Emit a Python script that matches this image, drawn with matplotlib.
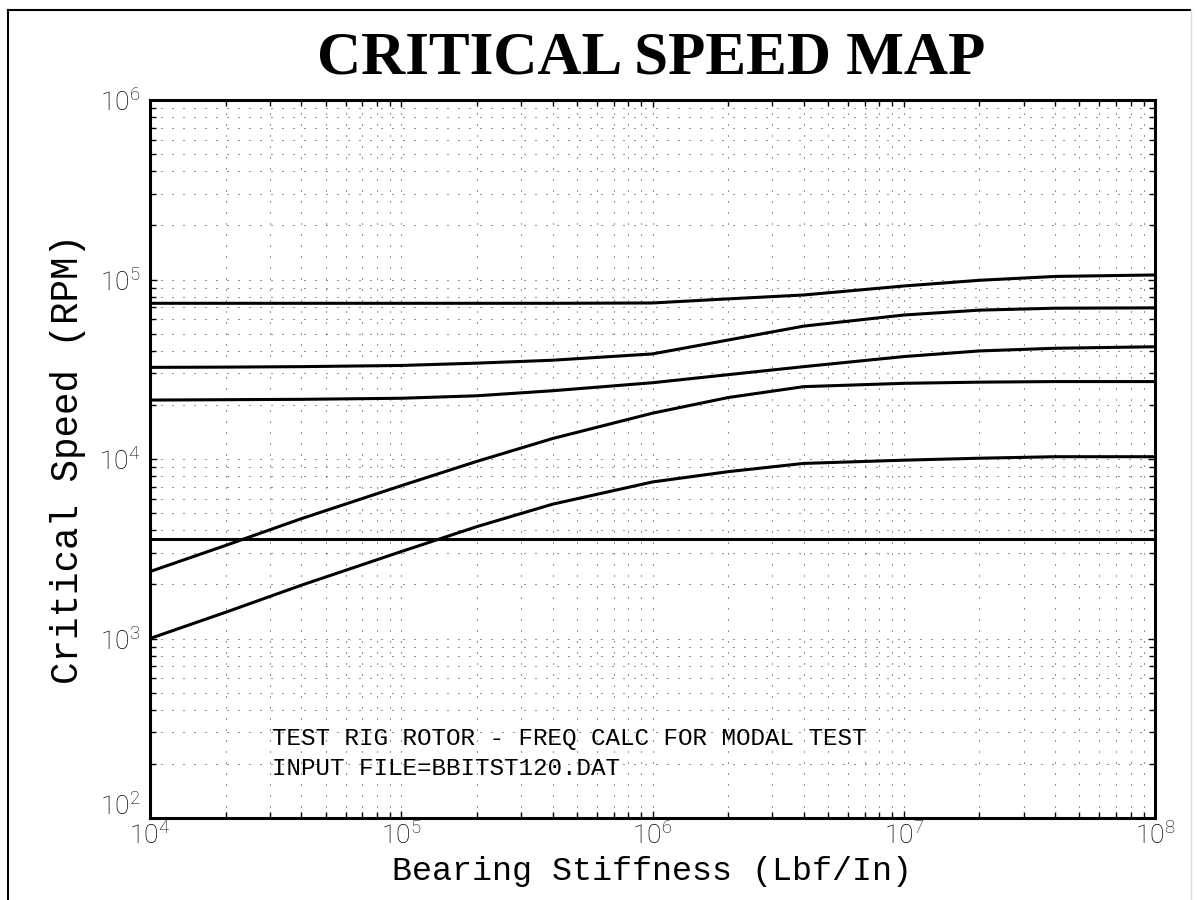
import numpy as np
import matplotlib
matplotlib.use('Agg')
import matplotlib.pyplot as plt
from matplotlib import font_manager
from matplotlib.ticker import LogLocator, FuncFormatter, NullFormatter
from matplotlib.lines import Line2D

# bearing stiffness (Lbf/In) and critical speeds (RPM)
STIFFNESS = [1e4, 2e4, 4e4, 1e5, 2e5, 4e5, 1e6, 2e6, 4e6, 1e7, 2e7, 4e7, 1e8]
RUN_SPEED = [3570, 3570, 3570, 3570, 3570, 3570, 3570, 3570, 3570, 3570, 3570, 3570, 3570]
MODE_1 = [1000, 1400, 1980, 3050, 4200, 5600, 7450, 8500, 9450, 9850, 10100, 10300, 10300]
MODE_2 = [2360, 3300, 4650, 7100, 9700, 13000, 18000, 22000, 25300, 26400, 26800, 27000, 27000]
MODE_3 = [21300, 21400, 21500, 21800, 22500, 24000, 26600, 29500, 32700, 37200, 40000, 41400, 42200]
MODE_4 = [32400, 32500, 32700, 33200, 34200, 35500, 38500, 46000, 55000, 63400, 67500, 69200, 69500]
MODE_5 = [73700, 73700, 73700, 73700, 73700, 73700, 74000, 78000, 82000, 92000, 99000, 104000, 106000]

TITLE = 'CRITICAL SPEED MAP'
XLABEL = 'Bearing Stiffness (Lbf/In)'
YLABEL = 'Critical Speed (RPM)'
NOTE = ['TEST RIG ROTOR - FREQ CALC FOR MODAL TEST', 'INPUT FILE=BBITST120.DAT']


def thin_family():
    """Pick an installed sans family that has a light face, to mimic the plotter font."""
    have = {}
    for f in font_manager.fontManager.ttflist:
        w = f.weight
        if isinstance(w, str):
            w = font_manager.weight_dict.get(w, 400)
        have.setdefault(f.name, set()).add(w)
    for fam in ['Roboto', 'Lato', 'Open Sans', 'Inter', 'Noto Sans']:
        if fam in have and min(have[fam]) <= 300:
            return fam, 'light'
    return 'DejaVu Sans', 'normal'


def decade(v, pos):
    return r'$\mathdefault{10^{%d}}$' % round(np.log10(v))


FAM, WGT = thin_family()
plt.rcParams['font.family'] = [FAM, 'DejaVu Sans']
plt.rcParams['font.weight'] = WGT
plt.rcParams['mathtext.default'] = 'regular'
# the plotter's stroke font is wide and evenly spaced, a mono face keeps the widths
WIDE = ['Liberation Mono', 'DejaVu Sans Mono']

W, H = 1197, 900
fig = plt.figure(figsize=(W / 100, H / 100), dpi=100)
ax = fig.add_axes([150 / W, 1 - 818 / H, (1155 - 150) / W, (818 - 100) / H])

for ys in [RUN_SPEED, MODE_1, MODE_2, MODE_3, MODE_4, MODE_5]:
    ax.plot(STIFFNESS, ys, color='black', lw=2.2, solid_joinstyle='round')

ax.set_xscale('log')
ax.set_yscale('log')
ax.set_xlim(1e4, 1e8)
ax.set_ylim(1e2, 1e6)

for axis in (ax.xaxis, ax.yaxis):
    axis.set_major_locator(LogLocator(base=10, numticks=20))
    axis.set_minor_locator(LogLocator(base=10, subs=np.arange(2, 10), numticks=20))
    axis.set_minor_formatter(NullFormatter())
ax.xaxis.set_major_formatter(FuncFormatter(decade))
# lowest y label is lifted clear of the 10^4 label, drawn separately below
ax.yaxis.set_major_formatter(FuncFormatter(lambda v, p: '' if v < 150 else decade(v, p)))

ax.grid(True, which='both', color='black', lw=0.6, linestyle=(0, (1.2, 12)))
ax.set_axisbelow(True)

ax.tick_params(which='both', direction='in', top=True, right=True, width=1.0, color='black')
ax.tick_params(which='major', length=5)
ax.tick_params(which='minor', length=4)
ax.tick_params(axis='x', labelsize=19, pad=3)
ax.tick_params(axis='y', labelsize=19, pad=7)
for s in ax.spines.values():
    s.set_linewidth(2.2)

ax.annotate(decade(1e2, 0), xy=(0, 1e2), xycoords=('axes fraction', 'data'),
            xytext=(-7, 8), textcoords='offset points', ha='right', va='center', size=19)

# title and axis labels placed on the figure like the plotter output
fig.text(651.5 / W, 1 - 73 / H, TITLE, family='Liberation Serif', weight='bold',
         size=44, ha='center', va='baseline')
fig.text(652 / W, 1 - 880 / H, XLABEL, family=WIDE, weight='normal', size=24,
         ha='center', va='baseline')
fig.text(78 / W, 1 - 459 / H, YLABEL, family=WIDE, weight='normal', size=27,
         rotation=90, rotation_mode='anchor', ha='center', va='baseline')

fig.text(272 / W, 1 - 745 / H, NOTE[0], family=WIDE, weight='normal', size=17.5,
         ha='left', va='baseline')
fig.text(272 / W, 1 - 775 / H, NOTE[1], family=WIDE, weight='normal', size=17.5,
         ha='left', va='baseline')

# frame around the whole sheet
fig.add_artist(Line2D([8 / W, 8 / W], [-0.05, 1 - 10 / H], color='black', lw=1.5))
fig.add_artist(Line2D([8 / W, 1190 / W], [1 - 10 / H, 1 - 10 / H], color='black', lw=1.5))
fig.add_artist(Line2D([1191 / W, 1191 / W], [-0.05, 1 - 10 / H], color='#dddddd', lw=1.0))

fig.savefig('out.png', dpi=100, facecolor='white')
